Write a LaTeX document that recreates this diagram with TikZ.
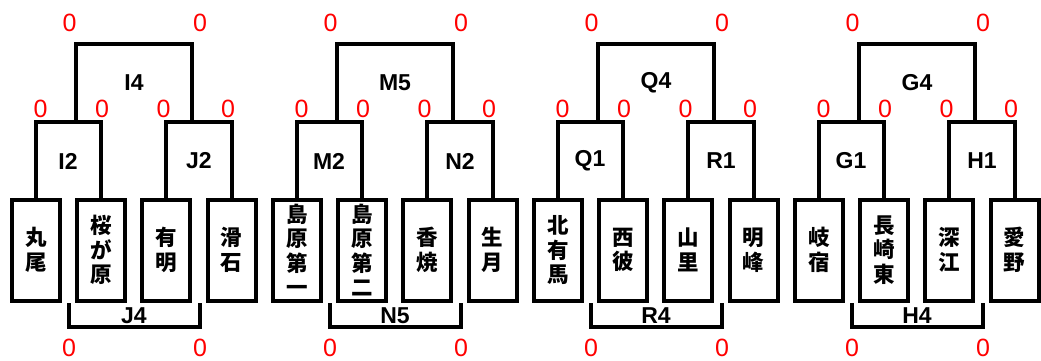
\documentclass[tikz,border=0pt]{standalone}
\usepackage{fontspec}
\setmainfont{Liberation Sans}
\newfontfamily\jpfont{Noto Sans CJK JP}
\tikzset{
  team/.style={draw, line width=4pt, minimum width=48pt, minimum height=101pt, inner sep=0pt, align=center,
    font=\jpfont\bfseries\fontsize{21.5}{24.5}\selectfont},
  lbl/.style={inner sep=0pt, font=\bfseries\fontsize{23}{24}\selectfont},
  score/.style={inner sep=0pt, text=red, font=\fontsize{25}{25}\selectfont},
  brk/.style={line width=4pt, line join=miter}
}
\begin{document}
\begin{tikzpicture}[x=1pt,y=-1pt]
\useasboundingbox (0,0) rectangle (1041,361);
\foreach \k/\ta/\tb/\tc/\td/\la/\lb/\lc/\ld in {
  0/{丸\\尾}/{桜\\が\\原}/{有\\明}/{滑\\石}/I2/J2/I4/J4,
  1/{島\\原\\第\\一}/{島\\原\\第\\二}/{香\\焼}/{生\\月}/M2/N2/M5/N5,
  2/{北\\有\\馬}/{西\\彼}/{山\\里}/{明\\峰}/Q1/R1/Q4/R4,
  3/{岐\\宿}/{長\\崎\\東}/{深\\江}/{愛\\野}/G1/H1/G4/H4}{
  \pgfmathsetmacro{\ox}{261*\k}
  \begin{scope}[xshift=\ox]
    % teams
    \node[team] (t\k a) at (36,250) {\ta};
    \node[team] (t\k b) at (101.3,250) {\tb};
    \node[team] (t\k c) at (166.3,250) {\tc};
    \node[team] (t\k d) at (231.5,250) {\td};
    % level coordinates
    \coordinate (mid\k) at (134,122);
    \coordinate (top\k) at (134,44);
    \coordinate (ul\k) at (76,122);
    \coordinate (ur\k) at (192,122);
    \coordinate (bl\k) at (69,303);
    \coordinate (br\k) at (200,303);
    \coordinate (bb\k) at (134,327);
    % brackets
    \draw[brk] (t\k a.north) -- (t\k a.north |- mid\k) -| (t\k b.north);
    \draw[brk] (t\k c.north) -- (t\k c.north |- mid\k) -| (t\k d.north);
    \draw[brk] (ul\k) |- (top\k) -| (ur\k);
    \draw[brk] (bl\k) |- (bb\k) -| (br\k);
    % labels
    \node[lbl] (la\k) at (68,161) {\la};
    \node[lbl] (lb\k) at (199,161) {\lb};
    \node[lbl] (lc\k) at (134,83) {\lc};
    \node[lbl] (ld\k) at (134,316) {\ld};
    % scores
    \node[score] (s\k a) at (69.5,23) {0};
    \node[score] (s\k b) at (200,23) {0};
    \node[score] (s\k c) at (40.5,108.5) {0};
    \node[score] (s\k d) at (102,108.5) {0};
    \node[score] (s\k e) at (163.5,108.5) {0};
    \node[score] (s\k f) at (228,108.5) {0};
    \node[score] (s\k g) at (69,348) {0};
    \node[score] (s\k h) at (200,348) {0};
  \end{scope}
}
\end{tikzpicture}
\end{document}
